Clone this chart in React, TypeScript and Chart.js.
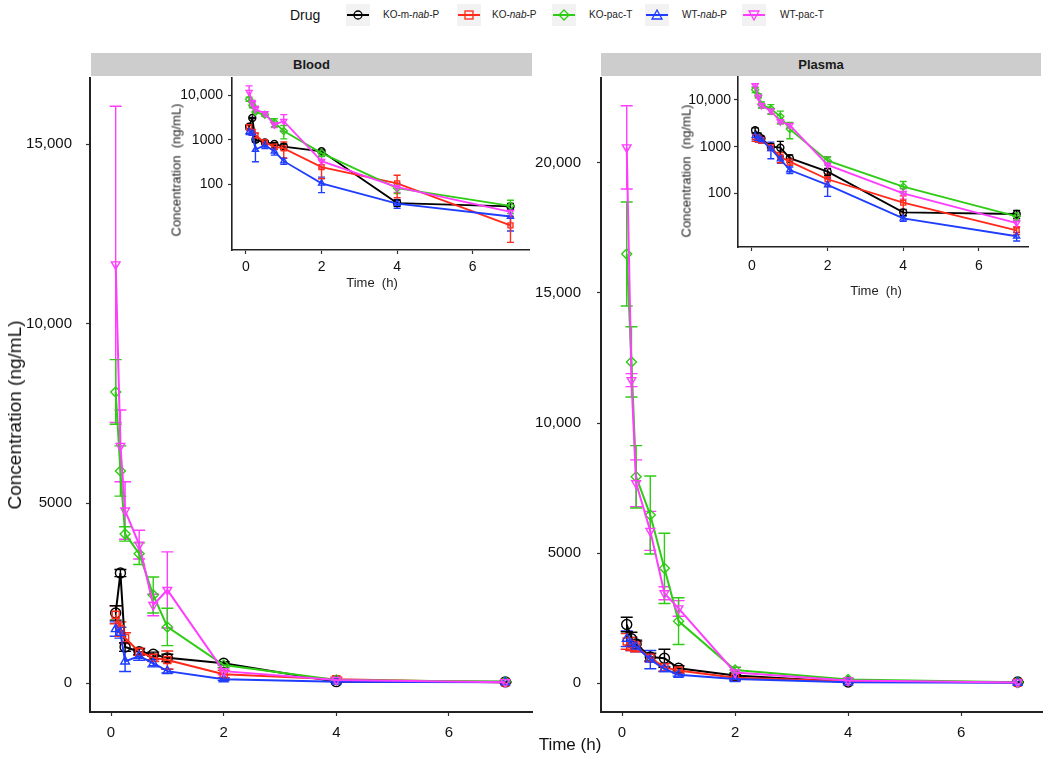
import React, { useEffect, useRef } from 'react';
import { Chart, registerables } from 'chart.js';
Chart.register(...registerables);

const FONT = "'Liberation Sans', Arial, Helvetica, sans-serif";
Chart.defaults.font.family = FONT;
Chart.defaults.color = '#111';

// ---------- data ----------
const TIMES = [0.083, 0.167, 0.25, 0.5, 0.75, 1, 2, 4, 7];
const DRUGS = ['KO-m-nab-P', 'KO-nab-P', 'KO-pac-T', 'WT-nab-P', 'WT-pac-T'];
const COLORS = ['#000000', '#ff2a1a', '#2ecc14', '#1f3dff', '#ff3dff'];
const SHAPES = ['circle', 'rect', 'rectRot', 'triangle', 'triangle'];
const ROTATIONS = [0, 0, 0, 0, 180];

const MAIN_X_TICKS = [0, 2, 4, 6];
const BLOOD_Y_TICKS = [0, 5000, 10000, 15000];
const PLASMA_Y_TICKS = [0, 5000, 10000, 15000, 20000];
const LOG_Y_TICKS = [100, 1000, 10000];

// Blood (ng/mL), mean and SD per drug
const BLOOD_KO_M_NAB = [1950, 3060, 1000, 870, 800, 700, 550, 38, 32];
const BLOOD_KO_M_NAB_SD = [200, 100, 120, 80, 60, 100, 40, 6, 5];
const BLOOD_KO_NAB = [1900, 1500, 1250, 870, 700, 640, 243, 105, 12];
const BLOOD_KO_NAB_SD = [250, 200, 150, 100, 100, 250, 110, 55, 7];
const BLOOD_KO_PAC = [8100, 5900, 4150, 3600, 2450, 1560, 500, 82, 33];
const BLOOD_KO_PAC_SD = [900, 700, 200, 300, 500, 520, 80, 20, 11];
const BLOOD_WT_NAB = [1500, 1400, 600, 750, 550, 330, 105, 37, 19];
const BLOOD_WT_NAB_SD = [200, 150, 280, 120, 100, 50, 40, 8, 10];
const BLOOD_WT_PAC = [11650, 6600, 4800, 3850, 2170, 2590, 330, 86, 24];
const BLOOD_WT_PAC_SD = [4400, 1000, 800, 400, 300, 1060, 100, 20, 5];

// Plasma (ng/mL), mean and SD per drug
const PLASMA_KO_M_NAB = [2250, 1700, 1500, 1000, 950, 565, 291, 39, 36];
const PLASMA_KO_M_NAB_SD = [280, 250, 150, 150, 350, 100, 50, 6, 7];
const PLASMA_KO_NAB = [1600, 1500, 1400, 970, 600, 477, 200, 63, 16];
const PLASMA_KO_NAB_SD = [300, 250, 200, 150, 150, 80, 60, 25, 3];
const PLASMA_KO_PAC = [16500, 12350, 7930, 6460, 4410, 2380, 501, 139, 32];
const PLASMA_KO_PAC_SD = [2000, 1350, 1200, 1500, 1350, 900, 100, 40, 6];
const PLASMA_WT_NAB = [1700, 1500, 1400, 900, 540, 316, 151, 29, 12];
const PLASMA_WT_NAB_SD = [300, 250, 200, 350, 100, 50, 65, 4, 2.5];
const PLASMA_WT_PAC = [20600, 11650, 7680, 5850, 3450, 2870, 405, 100, 23];
const PLASMA_WT_PAC_SD = [1600, 250, 900, 750, 250, 300, 200, 25, 4];

const BLOOD = [BLOOD_KO_M_NAB, BLOOD_KO_NAB, BLOOD_KO_PAC, BLOOD_WT_NAB, BLOOD_WT_PAC];
const BLOOD_SD = [BLOOD_KO_M_NAB_SD, BLOOD_KO_NAB_SD, BLOOD_KO_PAC_SD, BLOOD_WT_NAB_SD, BLOOD_WT_PAC_SD];
const PLASMA = [PLASMA_KO_M_NAB, PLASMA_KO_NAB, PLASMA_KO_PAC, PLASMA_WT_NAB, PLASMA_WT_PAC];
const PLASMA_SD = [PLASMA_KO_M_NAB_SD, PLASMA_KO_NAB_SD, PLASMA_KO_PAC_SD, PLASMA_WT_NAB_SD, PLASMA_WT_PAC_SD];

// ---------- helpers ----------
const fmt = (v: number) => (v >= 10000 ? v.toLocaleString('en-US') : String(v));

const errorBarPlugin = {
  id: 'errbars',
  beforeDatasetsDraw(chart: any, _args: any, opts: any) {
    const ctx = chart.ctx;
    const xs = chart.scales.x;
    const ys = chart.scales.y;
    const cap = (opts && opts.cap) || 6;
    const lw = (opts && opts.lineWidth) || 1.5;
    chart.data.datasets.forEach((ds: any) => {
      const errs = ds.errors;
      if (!errs) return;
      ctx.save();
      ctx.strokeStyle = ds.borderColor;
      ctx.lineWidth = lw;
      ds.data.forEach((p: any, j: number) => {
        const e = errs[j];
        let lo = p.y - e;
        const hi = p.y + e;
        if (ys.type === 'logarithmic' && lo < ys.min) lo = ys.min;
        const x = xs.getPixelForValue(p.x);
        const y1 = ys.getPixelForValue(hi);
        const y2 = ys.getPixelForValue(lo);
        ctx.beginPath();
        ctx.moveTo(x, y1);
        ctx.lineTo(x, y2);
        ctx.moveTo(x - cap / 2, y1);
        ctx.lineTo(x + cap / 2, y1);
        ctx.moveTo(x - cap / 2, y2);
        ctx.lineTo(x + cap / 2, y2);
        ctx.stroke();
      });
      ctx.restore();
    });
  },
};

type PanelOpts = {
  values: number[][];
  sds: number[][];
  xMin: number;
  xMax: number;
  yMin: number;
  yMax: number;
  log: boolean;
  yTicks: number[];
  yAxisWidth: number;
  xAxisHeight: number;
  padTop: number;
  padRight: number;
  tickFont: number;
  yPad: number;
  xPad: number;
  lineWidth: number;
  radius: number;
  cap: number;
  axisWidth: number;
};

function makeConfig(o: PanelOpts): any {
  const datasets = DRUGS.map((name, i) => ({
    label: name,
    data: TIMES.map((t, j) => ({ x: t, y: o.values[i][j] })),
    errors: o.sds[i],
    borderColor: COLORS[i],
    backgroundColor: 'rgba(0,0,0,0)',
    pointBackgroundColor: 'rgba(0,0,0,0)',
    pointBorderColor: COLORS[i],
    pointStyle: SHAPES[i],
    pointRotation: ROTATIONS[i],
    pointRadius: o.radius,
    pointBorderWidth: 1.4,
    borderWidth: o.lineWidth,
    tension: 0,
    clip: false,
  })).reverse();
  return {
    type: 'line',
    data: { datasets },
    plugins: [errorBarPlugin],
    options: {
      responsive: false,
      animation: false,
      events: [],
      layout: { padding: { top: o.padTop, right: o.padRight, left: 0, bottom: 0 } },
      plugins: {
        legend: { display: false },
        tooltip: { enabled: false },
        errbars: { cap: o.cap, lineWidth: 1.4 },
      },
      scales: {
        x: {
          type: 'linear',
          bounds: 'data',
          min: o.xMin,
          max: o.xMax,
          afterBuildTicks: (s: any) => { s.ticks = MAIN_X_TICKS.map((v) => ({ value: v })); },
          afterFit: (s: any) => { s.height = o.xAxisHeight; s.paddingLeft = 0; s.paddingRight = 0; },
          ticks: { font: { size: o.tickFont }, color: '#111', padding: o.xPad, maxRotation: 0, autoSkip: false, callback: (v: any) => String(v) },
          grid: { drawOnChartArea: false, drawTicks: true, tickLength: 4, color: '#333', tickWidth: 1.2 },
          border: { display: true, color: '#222', width: o.axisWidth },
        },
        y: {
          type: o.log ? 'logarithmic' : 'linear',
          bounds: 'data',
          min: o.yMin,
          max: o.yMax,
          afterBuildTicks: (s: any) => { s.ticks = o.yTicks.map((v) => ({ value: v })); },
          afterFit: (s: any) => { s.width = o.yAxisWidth; s.paddingTop = 0; s.paddingBottom = 0; },
          ticks: { font: { size: o.tickFont }, color: '#111', padding: o.yPad, autoSkip: false, callback: (v: any) => fmt(Number(v)) },
          grid: { drawOnChartArea: false, drawTicks: true, tickLength: 4, color: '#333', tickWidth: 1.2 },
          border: { display: true, color: '#222', width: o.axisWidth },
        },
      },
    },
  };
}

function ChartCanvas({ left, top, width, height, opts }: { left: number; top: number; width: number; height: number; opts: PanelOpts }) {
  const ref = useRef<HTMLCanvasElement | null>(null);
  useEffect(() => {
    const chart = new Chart(ref.current as HTMLCanvasElement, makeConfig(opts));
    return () => chart.destroy();
  }, []);
  return (
    <canvas
      ref={ref}
      width={width}
      height={height}
      style={{ position: 'absolute', left, top, width, height }}
    />
  );
}

function Marker({ i }: { i: number }) {
  const c = COLORS[i];
  const common = { fill: 'none', stroke: c, strokeWidth: 1.3 };
  let shape: any = null;
  if (i === 0) shape = <circle cx={12} cy={11} r={4} {...common} />;
  if (i === 1) shape = <rect x={8} y={7} width={8} height={8} {...common} />;
  if (i === 2) shape = <polygon points="12,6 17,11 12,16 7,11" {...common} />;
  if (i === 3) shape = <polygon points="12,6 17,15 7,15" {...common} />;
  if (i === 4) shape = <polygon points="7,7 17,7 12,16" {...common} />;
  return (
    <svg width={24} height={22} style={{ display: 'block' }}>
      <rect x={0} y={0} width={24} height={22} fill="#f2f2f2" />
      <line x1={1} y1={11} x2={23} y2={11} stroke={c} strokeWidth={2} />
      {shape}
    </svg>
  );
}

function LegendLabel({ name }: { name: string }) {
  const parts = name.split('nab');
  if (parts.length === 1) return <span>{name}</span>;
  return (
    <span>
      {parts[0]}
      <i>nab</i>
      {parts[1]}
    </span>
  );
}

const LEGEND_BOX_X = [346, 457, 552, 645, 742];
const LEGEND_TEXT_X = [383, 492, 589, 682, 780];

export default function App() {
  const abs = (extra: any) => ({ position: 'absolute' as const, whiteSpace: 'nowrap' as const, fontFamily: FONT, color: '#111', ...extra });

  const bloodMain: PanelOpts = {
    values: BLOOD, sds: BLOOD_SD, xMin: -0.373, xMax: 7.474, yMin: -807, yMax: 16838, log: false,
    yTicks: BLOOD_Y_TICKS, yAxisWidth: 70, xAxisHeight: 30, padTop: 8, padRight: 13, tickFont: 15,
    yPad: 14, xPad: 8, lineWidth: 2, radius: 5, cap: 12, axisWidth: 2,
  };
  const plasmaMain: PanelOpts = {
    values: PLASMA, sds: PLASMA_SD, xMin: -0.372, xMax: 7.43, yMin: -1115, yMax: 23269, log: false,
    yTicks: PLASMA_Y_TICKS, yAxisWidth: 71, xAxisHeight: 30, padTop: 8, padRight: 8, tickFont: 15,
    yPad: 16, xPad: 8, lineWidth: 2, radius: 5, cap: 12, axisWidth: 2,
  };
  const bloodInset: PanelOpts = {
    values: BLOOD, sds: BLOOD_SD, xMin: -0.37, xMax: 7.49, yMin: 3.37, yMax: 24100, log: true,
    yTicks: LOG_Y_TICKS, yAxisWidth: 82, xAxisHeight: 40, padTop: 8, padRight: 11, tickFont: 14,
    yPad: 5, xPad: 5, lineWidth: 1.8, radius: 3.5, cap: 7, axisWidth: 1.6,
  };
  const plasmaInset: PanelOpts = {
    values: PLASMA, sds: PLASMA_SD, xMin: -0.37, xMax: 7.30, yMin: 7.06, yMax: 31100, log: true,
    yTicks: LOG_Y_TICKS, yAxisWidth: 88, xAxisHeight: 42, padTop: 8, padRight: 17, tickFont: 14,
    yPad: 3, xPad: 7, lineWidth: 1.8, radius: 3.5, cap: 7, axisWidth: 1.6,
  };

  return (
    <div style={{ position: 'absolute', left: 0, top: 0, width: 1050, height: 763, background: '#fff', overflow: 'hidden', fontFamily: FONT }}>
      {/* legend */}
      <div style={abs({ left: 290, top: 7, fontSize: 14 })}>Drug</div>
      {DRUGS.map((d, i) => (
        <React.Fragment key={d}>
          <div style={abs({ left: LEGEND_BOX_X[i], top: 4 })}><Marker i={i} /></div>
          <div style={abs({ left: LEGEND_TEXT_X[i], top: 9, fontSize: 10, color: '#222' })}><LegendLabel name={d} /></div>
        </React.Fragment>
      ))}

      {/* facet strips */}
      <div style={abs({ left: 91, top: 53, width: 441, height: 23, background: '#cdcdcd', fontSize: 13, fontWeight: 'bold', textAlign: 'center', lineHeight: '23px', color: '#1a1a1a' })}>Blood</div>
      <div style={abs({ left: 601, top: 53, width: 440, height: 23, background: '#cdcdcd', fontSize: 13, fontWeight: 'bold', textAlign: 'center', lineHeight: '23px', color: '#1a1a1a' })}>Plasma</div>

      <ChartCanvas left={20} top={70} width={525} height={672} opts={bloodMain} />
      <ChartCanvas left={530} top={70} width={520} height={672} opts={plasmaMain} />
      <ChartCanvas left={150} top={70} width={390} height={220} opts={bloodInset} />
      <ChartCanvas left={650} top={69} width={395} height={220} opts={plasmaInset} />

      {/* axis titles */}
      <div style={abs({ left: 15, top: 415, fontSize: 19, transform: 'translate(-50%, -50%) rotate(-90deg)' })}>Concentration (ng/mL)</div>
      <div style={abs({ left: 570, top: 745, fontSize: 17, transform: 'translate(-50%, -50%)' })}>Time (h)</div>

      <div style={abs({ left: 176, top: 170, fontSize: 13, transform: 'translate(-50%, -50%) rotate(-90deg)', color: '#222' })}>Concentration&nbsp; (ng/mL)</div>
      <div style={abs({ left: 372, top: 282, fontSize: 13, transform: 'translate(-50%, -50%)', color: '#222' })}>Time&nbsp; (h)</div>
      <div style={abs({ left: 686, top: 171, fontSize: 13, transform: 'translate(-50%, -50%) rotate(-90deg)', color: '#222' })}>Concentration&nbsp; (ng/mL)</div>
      <div style={abs({ left: 876, top: 290, fontSize: 13, transform: 'translate(-50%, -50%)', color: '#222' })}>Time&nbsp; (h)</div>
    </div>
  );
}
